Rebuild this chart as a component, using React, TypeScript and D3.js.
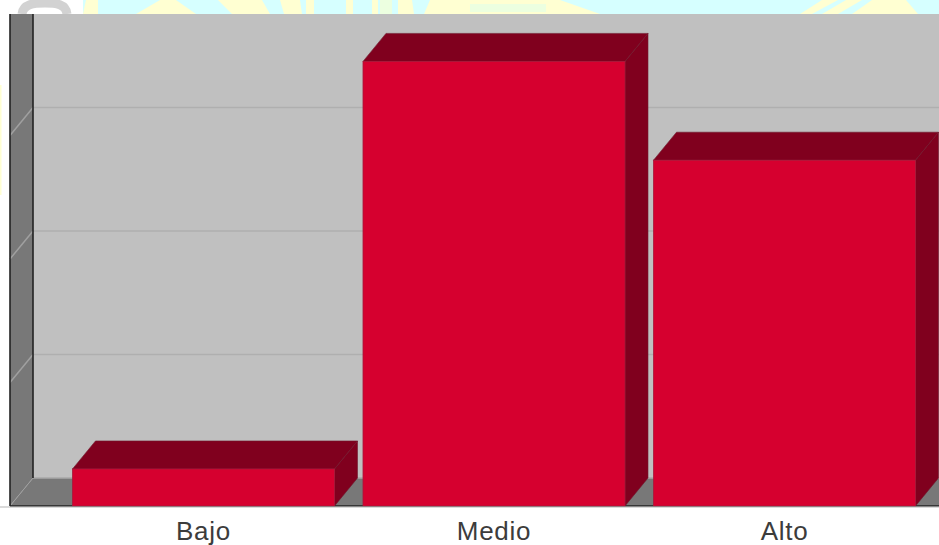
import React from "react";
import * as d3 from "d3";

const categories = ["Bajo", "Medio", "Alto"];
const values = [1.5, 18, 14];
const gridTicks = [5, 10, 15];
const yellowBands: [number, number, number, number][] = [
  [86, 98, 83, 98], [160, 176, 136, 196], [218, 262, 232, 270], [280, 300, 284, 302],
  [306, 314, 306, 314], [346, 353, 346, 353], [372, 378, 372, 378], [398, 412, 398, 414],
  [430, 560, 424, 600], [822, 838, 800, 812], [846, 862, 822, 838], [872, 906, 852, 918],
];
const cyanInsets: [number, number, number, number][] = [[470, 546, 4, 12], [380, 392, 0, 14]];

const W = 939, H = 545;
const DX = 23, DY = 28;
const frontLeft = 10, baseY = 506, topY = 14;

const x = d3.scaleBand<string>().domain(categories).range([72.5, 915.5]).paddingInner(0.0981);
const y = d3.scaleLinear().domain([0, 20]).range([baseY, 12]);
const pts = (p: number[][]) => p.map((q) => q.join(",")).join(" ");

const FRONT = "#d6002f", DARK = "#80001e", WALL = "#787878";

export default function App() {
  const right = W + 5;
  return (
    <svg width={W} height={H} viewBox={`0 0 ${W} ${H}`} style={{ position: "absolute", left: 0, top: 0, display: "block" }}>
      <rect width={W} height={H} fill="#ffffff" />
      <rect x={83} y={0} width={W - 83} height={topY} fill="#d6ffff" />
      {yellowBands.map(([a, b, c, d], i) => (
        <polygon key={i} points={pts([[a, 0], [b, 0], [d, topY], [c, topY]])} fill="#ffffd2" />
      ))}
      {cyanInsets.map(([a, b, t, u], i) => (
        <rect key={i} x={a} y={t} width={b - a} height={u - t} fill="#ecffe0" />
      ))}
      <path d="M22,14 C23,4 34,3 45,3 C56,3 66,4 67,14" fill="none" stroke="#d2d2d2" strokeWidth={9} />
      <rect x={0} y={85} width={1.5} height={110} fill="#ffffd2" />

      <rect x={frontLeft + DX} y={topY} width={W} height={baseY - DY - topY} fill="#c0c0c0" />
      <polygon points={pts([[frontLeft, topY], [frontLeft + DX, topY], [frontLeft + DX, baseY - DY], [frontLeft, baseY]])} fill={WALL} />
      <polygon points={pts([[frontLeft, baseY], [frontLeft + DX, baseY - DY], [right + DX, baseY - DY], [right, baseY]])} fill={WALL} />

      {gridTicks.map((t) => (
        <g key={t} fill="none" stroke="#afafaf" strokeWidth={1.5}>
          <line x1={frontLeft + DX} x2={W} y1={y(t) - DY} y2={y(t) - DY} />
          <line x1={frontLeft} y1={y(t)} x2={frontLeft + DX} y2={y(t) - DY} stroke="#a0a0a0" />
        </g>
      ))}
      <line x1={frontLeft + DX} x2={W} y1={baseY - DY} y2={baseY - DY} stroke="#a8a8a8" strokeWidth={1.5} />
      <line x1={frontLeft} y1={baseY} x2={frontLeft + DX} y2={baseY - DY} stroke="#a0a0a0" strokeWidth={1} />

      <line x1={frontLeft} x2={frontLeft} y1={topY} y2={baseY} stroke="#222" strokeWidth={1.6} />
      <line x1={frontLeft + DX} x2={frontLeft + DX} y1={topY} y2={baseY - DY} stroke="#222" strokeWidth={1.6} />
      <line x1={frontLeft} x2={W} y1={baseY} y2={baseY} stroke="#222" strokeWidth={1.6} />

      {categories.map((c, i) => {
        const l = x(c)!;
        const r = l + x.bandwidth();
        const t = y(values[i]);
        return (
          <g key={c}>
            <polygon points={pts([[l, t], [l + DX, t - DY], [r + DX, t - DY], [r, t]])} fill={DARK} stroke="#6f1a2e" strokeWidth={0.6} />
            <polygon points={pts([[r, t], [r + DX, t - DY], [r + DX, baseY - DY], [r, baseY]])} fill={DARK} stroke="#6f1a2e" strokeWidth={0.6} />
            <rect x={l} y={t} width={r - l} height={baseY - t} fill={FRONT} stroke="#a8183a" strokeWidth={0.8} />
            <text x={(l + r) / 2} y={540} textAnchor="middle" fontFamily="Liberation Sans, Arial, sans-serif" fontSize={26} letterSpacing={0.7} fill="#3c3c3c">{c}</text>
          </g>
        );
      })}
      <line x1={0} x2={W} y1={507} y2={507} stroke="#b5b5b5" strokeWidth={1} />
    </svg>
  );
}
